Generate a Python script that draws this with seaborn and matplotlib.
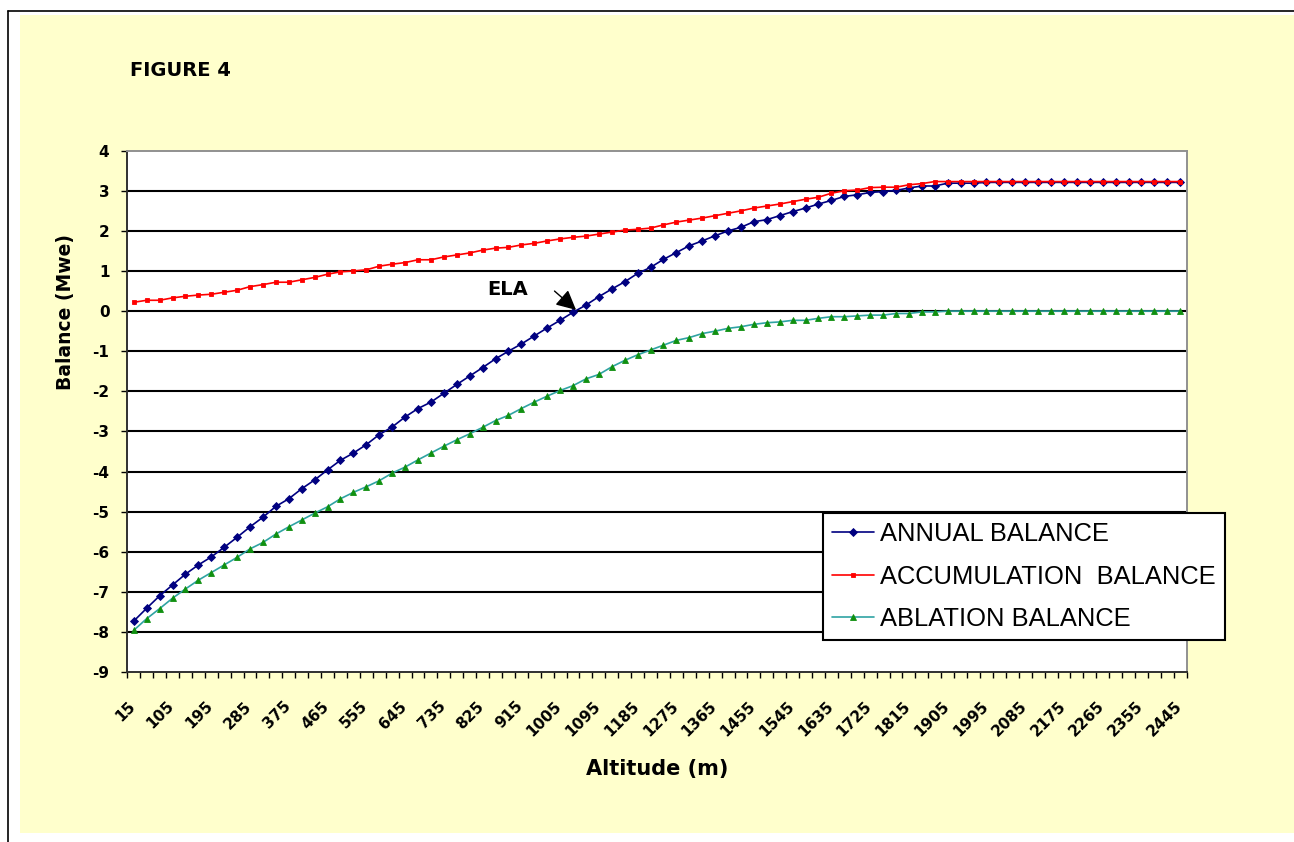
import numpy as np
import pandas as pd
import matplotlib
matplotlib.use("Agg")
import matplotlib.pyplot as plt
import matplotlib.transforms as mtransforms
from matplotlib.font_manager import FontProperties
from matplotlib.patches import Rectangle
from matplotlib.lines import Line2D
import seaborn as sns

# ---------------- data ----------------
altitude = list(range(15, 2446, 30))  # 82 categories, 15 .. 2445 m

annual_balance = [
    -7.73, -7.41, -7.10, -6.83, -6.56, -6.33, -6.13, -5.89, -5.64, -5.38,
    -5.14, -4.87, -4.68, -4.43, -4.21, -3.96, -3.72, -3.54, -3.33, -3.08,
    -2.89, -2.64, -2.43, -2.27, -2.05, -1.83, -1.62, -1.41, -1.19, -1.00,
    -0.82, -0.62, -0.42, -0.23, -0.03, 0.15, 0.36, 0.55, 0.73, 0.94,
    1.09, 1.29, 1.46, 1.63, 1.75, 1.88, 2.00, 2.09, 2.23, 2.28,
    2.38, 2.48, 2.57, 2.67, 2.76, 2.86, 2.90, 2.96, 2.98, 3.01,
    3.07, 3.12, 3.12, 3.19, 3.19, 3.19, 3.21, 3.21, 3.21, 3.21,
    3.21, 3.21, 3.21, 3.21, 3.21, 3.21, 3.21, 3.21, 3.21, 3.21,
    3.21, 3.21,
]

accumulation_balance = [
    0.22, 0.27, 0.27, 0.33, 0.37, 0.40, 0.42, 0.47, 0.52, 0.61,
    0.66, 0.72, 0.72, 0.78, 0.84, 0.92, 0.98, 1.00, 1.03, 1.12,
    1.17, 1.21, 1.28, 1.28, 1.35, 1.40, 1.45, 1.52, 1.57, 1.59,
    1.65, 1.69, 1.75, 1.80, 1.84, 1.87, 1.92, 1.97, 2.02, 2.04,
    2.07, 2.15, 2.22, 2.27, 2.32, 2.38, 2.44, 2.50, 2.57, 2.62,
    2.67, 2.73, 2.79, 2.84, 2.94, 3.00, 3.02, 3.08, 3.09, 3.09,
    3.15, 3.18, 3.23, 3.23, 3.23, 3.23, 3.23, 3.23, 3.23, 3.23,
    3.23, 3.23, 3.23, 3.23, 3.23, 3.23, 3.23, 3.23, 3.23, 3.23,
    3.23, 3.23,
]

ablation_balance = [
    -7.96, -7.67, -7.42, -7.16, -6.93, -6.71, -6.52, -6.33, -6.14, -5.93,
    -5.77, -5.56, -5.38, -5.21, -5.04, -4.88, -4.68, -4.52, -4.38, -4.23,
    -4.04, -3.89, -3.71, -3.54, -3.37, -3.21, -3.06, -2.90, -2.73, -2.60,
    -2.43, -2.27, -2.12, -1.98, -1.86, -1.69, -1.58, -1.39, -1.23, -1.09,
    -0.97, -0.85, -0.73, -0.66, -0.56, -0.50, -0.43, -0.39, -0.33, -0.29,
    -0.27, -0.23, -0.23, -0.18, -0.14, -0.14, -0.12, -0.10, -0.10, -0.06,
    -0.06, -0.02, -0.02, 0.00, 0.00, 0.00, 0.00, 0.00, 0.00, 0.00,
    0.00, 0.00, 0.00, 0.00, 0.00, 0.00, 0.00, 0.00, 0.00, 0.00,
    0.00, 0.00,
]

series_names = ["ANNUAL BALANCE", "ACCUMULATION  BALANCE", "ABLATION BALANCE"]
y_ticks = list(range(-9, 5))
x_tick_labels = altitude[::3]

df = pd.DataFrame({
    "altitude": altitude,
    "annual": annual_balance,
    "accumulation": accumulation_balance,
    "ablation": ablation_balance,
})

# ---------------- style ----------------
sns.set_style("white")
plt.rcParams["font.family"] = ["DejaVu Sans"]
plt.rcParams["axes.unicode_minus"] = False
for key in ("text.color", "axes.labelcolor", "xtick.color", "ytick.color"):
    plt.rcParams[key] = "black"

W, H = 1294, 842
fig = plt.figure(figsize=(W / 100, H / 100), dpi=100)
fig.patch.set_facecolor("white")

# yellow chart area + outer frame lines
bg = Rectangle((20 / W, 1 - 833 / H), 1 - 20 / W, (833 - 15) / H,
               transform=fig.transFigure, facecolor="#FFFFCC",
               edgecolor="none", zorder=-10)
fig.patches.append(bg)
fig.lines.append(Line2D([8 / W, 1], [1 - 10.5 / H, 1 - 10.5 / H],
                        transform=fig.transFigure, color="black", lw=1.2, zorder=-5))
fig.lines.append(Line2D([8 / W, 8 / W], [0, 1 - 10.5 / H],
                        transform=fig.transFigure, color="black", lw=1.2, zorder=-5))

ax = fig.add_axes([127.3 / W, 1 - 672 / H, (1186.7 - 127.3) / W, 521.3 / H])
ax.set_zorder(1)
ax.set_facecolor("white")

line_kw = dict(linewidth=1.2, markeredgewidth=0.6)
sns.lineplot(data=df, x="altitude", y="annual", ax=ax, color="#000080",
             marker="D", markersize=3.6, markerfacecolor="#000080",
             markeredgecolor="#000080", label=series_names[0], **line_kw)
sns.lineplot(data=df, x="altitude", y="accumulation", ax=ax, color="#FF0000",
             marker="s", markersize=3.4, markerfacecolor="#FF0000",
             markeredgecolor="#FF0000", label=series_names[1], **line_kw)
sns.lineplot(data=df, x="altitude", y="ablation", ax=ax, color="#2FA3A3",
             marker="^", markersize=4.6, markerfacecolor="#109010",
             markeredgecolor="#109010", label=series_names[2], **line_kw)

step = altitude[1] - altitude[0]
ax.set_xlim(altitude[0] - step / 2, altitude[-1] + step / 2)
ax.set_ylim(y_ticks[0], y_ticks[-1])

# y axis
ax.set_yticks(y_ticks)
ax.set_yticklabels([str(v) for v in y_ticks], fontweight="bold", fontsize=11)
ax.tick_params(axis="y", which="major", direction="out", length=4.3, width=1.0,
               pad=8.6, colors="black", left=True)

# x axis: tick marks between categories, labels every 3rd category
ax.set_xticks(x_tick_labels)
ax.set_xticklabels([str(v) for v in x_tick_labels], fontweight="bold", fontsize=11,
                   rotation=45, ha="right", va="top", rotation_mode="anchor")
ax.set_xticks(np.arange(altitude[0] - step / 2, altitude[-1] + step, step), minor=True)
ax.tick_params(axis="x", which="major", length=0, pad=19.0, bottom=True)
ax.tick_params(axis="x", which="minor", direction="out", length=4.3, width=1.0,
               bottom=True, color="black")
offset = mtransforms.ScaledTranslation(-6 / 100, 0, fig.dpi_scale_trans)
for lab in ax.get_xticklabels():
    lab.set_transform(lab.get_transform() + offset)

# grid
ax.yaxis.grid(True, color="black", linewidth=1.5)
ax.xaxis.grid(False)
for gl, v in zip(ax.get_ygridlines(), y_ticks):
    if v in (y_ticks[0], y_ticks[-1]):
        gl.set_visible(False)
ax.set_axisbelow(True)

for side in ("left", "bottom"):
    ax.spines[side].set_color("#303030")
    ax.spines[side].set_linewidth(1.4)
for side in ("top", "right"):
    ax.spines[side].set_color("#909090")
    ax.spines[side].set_linewidth(1.4)

# axis labels
ax.set_xlabel("Altitude (m)", fontweight="bold", fontsize=15)
ax.xaxis.set_label_coords(0.5, (672 - 759) / 521.3)
ax.set_ylabel("Balance (Mwe)", fontweight="bold", fontsize=13.5)
ax.yaxis.set_label_coords((75 - 127.3) / 1059.4, (672 - 312) / 521.3)

# title
fig.text(130 / W, 1 - 71 / H, "FIGURE 4", fontweight="bold", fontsize=14,
         ha="left", va="center", color="black")

# ELA annotation
ela_text_pos = (884, 0.54)
ela_arrow_tail = (992, 0.50)
ela_arrow_head = (1042, 0.03)
ax.text(*ela_text_pos, "ELA", fontweight="bold", fontsize=14, ha="center", va="center")
ax.annotate("", xy=ela_arrow_head, xytext=ela_arrow_tail,
            arrowprops=dict(arrowstyle="-|>", color="black", lw=1.0,
                            mutation_scale=30, shrinkA=0, shrinkB=0))

# legend
leg = ax.legend(loc="upper left", bbox_to_anchor=(823 / W, 1 - 513 / H),
                bbox_transform=fig.transFigure, frameon=True, fancybox=False,
                shadow=False, framealpha=1, edgecolor="black", facecolor="white",
                prop=FontProperties(family="Liberation Sans", size=18.4),
                handlelength=1.62, handletextpad=0.25, labelspacing=0.72,
                borderpad=0.36, borderaxespad=0)
leg.get_frame().set_linewidth(1.5)
for t in leg.get_texts():
    t.set_color("black")

fig.savefig("out.png", dpi=100, facecolor=fig.get_facecolor())
